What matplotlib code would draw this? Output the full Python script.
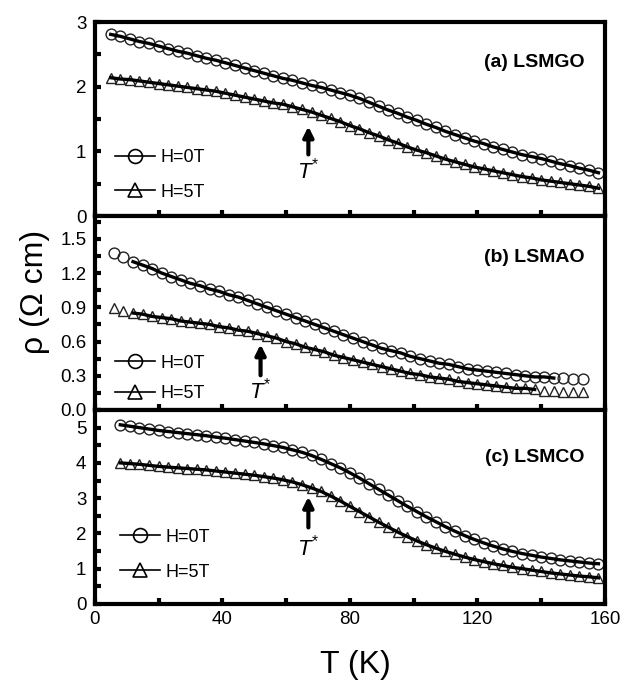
import numpy as np
import matplotlib
matplotlib.use('Agg')
import matplotlib.pyplot as plt
from matplotlib.lines import Line2D
from matplotlib.ticker import MultipleLocator, FormatStrFormatter

plt.rcParams['font.family'] = ['Liberation Sans', 'DejaVu Sans']
plt.rcParams['mathtext.fontset'] = 'custom'
plt.rcParams['mathtext.rm'] = 'Liberation Sans'
plt.rcParams['mathtext.it'] = 'Liberation Sans:italic'

# temperature grids (K)
T_a = np.arange(5, 159, 3)
T_b = np.arange(6, 154, 3)
T_c = np.arange(8, 159, 3)

# (a) LSMGO
rho_a0 = [2.81, 2.78, 2.74, 2.70, 2.67, 2.63, 2.59, 2.55, 2.52, 2.48,
          2.44, 2.41, 2.37, 2.33, 2.29, 2.25, 2.21, 2.17, 2.13, 2.10,
          2.06, 2.02, 1.99, 1.95, 1.91, 1.87, 1.82, 1.76, 1.70, 1.64,
          1.59, 1.53, 1.48, 1.42, 1.37, 1.31, 1.26, 1.21, 1.16, 1.12,
          1.07, 1.03, 0.99, 0.95, 0.92, 0.89, 0.85, 0.81, 0.78, 0.74,
          0.71, 0.67]
rho_a5 = [2.14, 2.12, 2.11, 2.09, 2.07, 2.05, 2.03, 2.01, 1.99, 1.97,
          1.95, 1.93, 1.90, 1.87, 1.84, 1.81, 1.78, 1.75, 1.73, 1.69,
          1.65, 1.61, 1.56, 1.51, 1.46, 1.40, 1.35, 1.29, 1.24, 1.18,
          1.13, 1.07, 1.02, 0.98, 0.93, 0.88, 0.84, 0.80, 0.76, 0.73,
          0.70, 0.67, 0.64, 0.61, 0.59, 0.56, 0.54, 0.52, 0.50, 0.48,
          0.46, 0.43]

# (b) LSMAO
rho_b0 = [1.38, 1.34, 1.30, 1.27, 1.24, 1.20, 1.17, 1.14, 1.11, 1.09,
          1.06, 1.04, 1.01, 0.99, 0.96, 0.93, 0.90, 0.87, 0.84, 0.81,
          0.78, 0.75, 0.72, 0.69, 0.66, 0.63, 0.60, 0.57, 0.54, 0.52,
          0.50, 0.47, 0.45, 0.43, 0.41, 0.40, 0.38, 0.36, 0.35, 0.34,
          0.33, 0.32, 0.31, 0.30, 0.29, 0.29, 0.28, 0.28, 0.27, 0.27]
rho_b5 = [0.89, 0.87, 0.85, 0.84, 0.82, 0.81, 0.80, 0.78, 0.77, 0.76,
          0.75, 0.73, 0.72, 0.70, 0.69, 0.67, 0.65, 0.63, 0.60, 0.58,
          0.55, 0.53, 0.51, 0.48, 0.46, 0.44, 0.42, 0.40, 0.38, 0.36,
          0.34, 0.32, 0.31, 0.29, 0.28, 0.27, 0.25, 0.24, 0.23, 0.22,
          0.21, 0.20, 0.19, 0.19, 0.18, 0.17, 0.17, 0.16, 0.16, 0.155]

# (c) LSMCO
rho_c0 = [5.08, 5.04, 5.00, 4.96, 4.92, 4.89, 4.86, 4.83, 4.80, 4.77,
          4.73, 4.70, 4.66, 4.62, 4.58, 4.54, 4.49, 4.44, 4.37, 4.30,
          4.21, 4.10, 3.98, 3.86, 3.72, 3.57, 3.41, 3.25, 3.09, 2.93,
          2.77, 2.62, 2.47, 2.33, 2.19, 2.06, 1.94, 1.83, 1.73, 1.64,
          1.56, 1.49, 1.43, 1.38, 1.33, 1.29, 1.25, 1.22, 1.19, 1.16,
          1.14]
rho_c5 = [4.00, 3.98, 3.96, 3.93, 3.90, 3.88, 3.86, 3.84, 3.82, 3.80,
          3.77, 3.74, 3.71, 3.68, 3.65, 3.61, 3.57, 3.52, 3.46, 3.38,
          3.29, 3.19, 3.06, 2.92, 2.77, 2.62, 2.47, 2.32, 2.18, 2.04,
          1.91, 1.79, 1.68, 1.58, 1.49, 1.41, 1.33, 1.26, 1.20, 1.14,
          1.09, 1.04, 1.00, 0.96, 0.92, 0.88, 0.85, 0.82, 0.79, 0.77,
          0.74]

panels = [
    dict(T=T_a, r0=rho_a0, r5=rho_a5, fit0=(0, 160), fit5=(0, 160),
         ylim=(0, 3), major=1, minor=0.5, fmt='%d', label='(a) LSMGO', ly=0.79,
         tstar=(67, 1.43, 0.91, 0.70), leg=(0.04, 0.08), lsp=0.95),
    dict(T=T_b, r0=rho_b0, r5=rho_b5, fit0=(12, 144), fit5=(12, 138),
         ylim=(0, 1.7), major=0.3, minor=0.15, fmt='%.1f', label='(b) LSMAO', ly=0.785,
         tstar=(52, 0.60, 0.28, 0.17), leg=(0.04, 0.04), lsp=0.75),
    dict(T=T_c, r0=rho_c0, r5=rho_c5, fit0=(0, 160), fit5=(0, 160),
         ylim=(0, 5.5), major=1, minor=0.5, fmt='%d', label='(c) LSMCO', ly=0.755,
         tstar=(67, 3.12, 2.09, 1.59), leg=(0.05, 0.12), lsp=1.0),
]

fig = plt.figure(figsize=(6.32, 6.91), dpi=100)
gs = fig.add_gridspec(3, 1, left=0.150, right=0.957, top=0.968, bottom=0.126, hspace=0)

for i, p in enumerate(panels):
    ax = fig.add_subplot(gs[i])
    T = p['T']
    r0 = np.array(p['r0'])
    r5 = np.array(p['r5'])
    ax.plot(T, r0, 'o', ms=7.8, mfc='none', mec='#222222', mew=1.0, zorder=2)
    ax.plot(T, r5, '^', ms=7.8, mfc='none', mec='#222222', mew=1.0, zorder=2)
    m0 = (T >= p['fit0'][0]) & (T <= p['fit0'][1])
    m5 = (T >= p['fit5'][0]) & (T <= p['fit5'][1])
    ax.plot(T[m0], r0[m0], '-', color='k', lw=2.4, zorder=3)
    ax.plot(T[m5], r5[m5], '-', color='k', lw=2.4, zorder=3)

    ax.set_xlim(0, 160)
    ax.set_ylim(*p['ylim'])
    ax.xaxis.set_major_locator(MultipleLocator(40))
    ax.xaxis.set_minor_locator(MultipleLocator(20))
    ax.yaxis.set_major_locator(MultipleLocator(p['major']))
    ax.yaxis.set_minor_locator(MultipleLocator(p['minor']))
    ax.yaxis.set_major_formatter(FormatStrFormatter(p['fmt']))
    ax.tick_params(which='both', direction='in', length=4, width=3,
                   top=False, right=False, labelsize=13.5)
    ax.tick_params(axis='y', pad=6)
    ax.tick_params(axis='x', pad=5)
    if i < 2:
        ax.tick_params(axis='x', labelbottom=False)
    for s in ax.spines.values():
        s.set_linewidth(3)

    ax.text(0.96, p['ly'], p['label'], transform=ax.transAxes, ha='right',
            va='center', fontsize=14, fontweight='bold')

    tx, ty1, ty2, tl = p['tstar']
    ax.annotate('', xy=(tx, ty1), xytext=(tx, ty2),
                arrowprops=dict(arrowstyle='-|>', color='k', lw=3, mutation_scale=15))
    ax.text(tx, tl, r'$T^{*}$', ha='center', va='center', fontsize=16)

    h0 = Line2D([], [], color='k', lw=1.2, marker='o', ms=10, mfc='none', mec='k', mew=1.2)
    h5 = Line2D([], [], color='k', lw=1.2, marker='^', ms=10, mfc='none', mec='k', mew=1.2)
    ax.legend([h0, h5], ['H=0T', 'H=5T'], loc='lower left', bbox_to_anchor=p['leg'],
              frameon=False, handlelength=2.2, handletextpad=0.3, fontsize=13,
              labelspacing=p['lsp'], borderpad=0, borderaxespad=0)

fig.text(0.055, 0.578, r'ρ (Ω cm)', rotation=90, ha='center', va='center', fontsize=23)
fig.text(0.563, 0.038, 'T (K)', ha='center', va='center', fontsize=23)

fig.savefig('out.png', dpi=100)
